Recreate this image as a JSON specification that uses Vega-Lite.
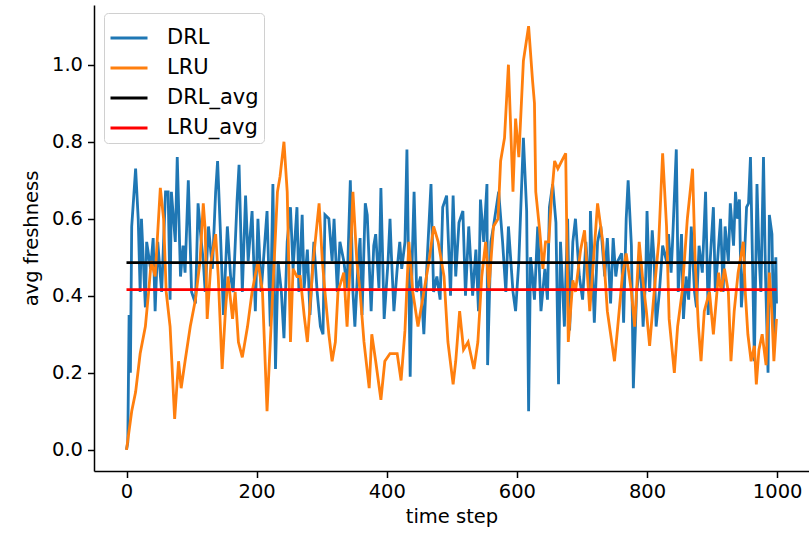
{
"$schema": "https://vega.github.io/schema/vega-lite/v6.json",
"width": 715, "height": 466,
"autosize": {"type": "none"},
"padding": {"left": 94, "top": 5, "right": 0, "bottom": 71},
"background": "white",
"config": {
 "view": {"stroke": null},
 "font": "DejaVu Sans",
 "axis": {"domainColor": "#000", "tickColor": "#000", "labelColor": "#000", "titleColor": "#000", "domainWidth": 1.5, "tickWidth": 1.5, "tickSize": 6.5, "labelFontSize": 19.5, "titleFontSize": 19.5, "titleFontWeight": "normal", "labelPadding": 5, "labelFont": "DejaVu Sans", "titleFont": "DejaVu Sans", "grid": false}
},
"datasets": {
 "DRL": [{"t":0,"v":0.0},{"t":2,"v":0.02},{"t":4,"v":0.35},{"t":6,"v":0.20},{"t":8,"v":0.58},{"t":14,"v":0.73},{"t":18,"v":0.60},{"t":21,"v":0.41},{"t":23,"v":0.60},{"t":29,"v":0.37},{"t":31,"v":0.54},{"t":37,"v":0.47},{"t":41,"v":0.55},{"t":44,"v":0.36},{"t":48,"v":0.54},{"t":54,"v":0.41},{"t":60,"v":0.67},{"t":64,"v":0.67},{"t":67,"v":0.39},{"t":69,"v":0.67},{"t":75,"v":0.54},{"t":78,"v":0.76},{"t":83,"v":0.45},{"t":87,"v":0.53},{"t":90,"v":0.46},{"t":95,"v":0.70},{"t":100,"v":0.41},{"t":106,"v":0.38},{"t":110,"v":0.64},{"t":115,"v":0.54},{"t":118,"v":0.49},{"t":121,"v":0.41},{"t":126,"v":0.58},{"t":132,"v":0.47},{"t":137,"v":0.67},{"t":140,"v":0.75},{"t":144,"v":0.58},{"t":149,"v":0.35},{"t":155,"v":0.58},{"t":160,"v":0.45},{"t":164,"v":0.41},{"t":170,"v":0.65},{"t":173,"v":0.74},{"t":178,"v":0.41},{"t":183,"v":0.66},{"t":187,"v":0.49},{"t":193,"v":0.62},{"t":198,"v":0.36},{"t":202,"v":0.60},{"t":207,"v":0.41},{"t":216,"v":0.62},{"t":221,"v":0.32},{"t":225,"v":0.69},{"t":229,"v":0.21},{"t":233,"v":0.49},{"t":238,"v":0.41},{"t":242,"v":0.29},{"t":247,"v":0.54},{"t":252,"v":0.63},{"t":256,"v":0.47},{"t":262,"v":0.63},{"t":265,"v":0.41},{"t":270,"v":0.61},{"t":273,"v":0.42},{"t":278,"v":0.52},{"t":282,"v":0.35},{"t":288,"v":0.54},{"t":293,"v":0.41},{"t":298,"v":0.32},{"t":302,"v":0.30},{"t":305,"v":0.61},{"t":311,"v":0.60},{"t":316,"v":0.49},{"t":319,"v":0.60},{"t":324,"v":0.41},{"t":328,"v":0.54},{"t":334,"v":0.49},{"t":339,"v":0.42},{"t":344,"v":0.70},{"t":348,"v":0.41},{"t":351,"v":0.32},{"t":356,"v":0.49},{"t":359,"v":0.55},{"t":362,"v":0.35},{"t":367,"v":0.64},{"t":370,"v":0.61},{"t":376,"v":0.36},{"t":380,"v":0.53},{"t":383,"v":0.56},{"t":388,"v":0.42},{"t":391,"v":0.68},{"t":396,"v":0.34},{"t":402,"v":0.49},{"t":405,"v":0.60},{"t":407,"v":0.51},{"t":411,"v":0.36},{"t":416,"v":0.47},{"t":420,"v":0.54},{"t":423,"v":0.47},{"t":428,"v":0.54},{"t":431,"v":0.78},{"t":436,"v":0.19},{"t":439,"v":0.49},{"t":442,"v":0.67},{"t":446,"v":0.41},{"t":452,"v":0.45},{"t":457,"v":0.30},{"t":462,"v":0.49},{"t":468,"v":0.69},{"t":472,"v":0.41},{"t":477,"v":0.45},{"t":482,"v":0.39},{"t":486,"v":0.63},{"t":492,"v":0.66},{"t":498,"v":0.40},{"t":502,"v":0.66},{"t":506,"v":0.45},{"t":511,"v":0.59},{"t":517,"v":0.62},{"t":521,"v":0.40},{"t":526,"v":0.58},{"t":532,"v":0.40},{"t":537,"v":0.52},{"t":541,"v":0.36},{"t":544,"v":0.65},{"t":549,"v":0.54},{"t":554,"v":0.69},{"t":555,"v":0.22},{"t":560,"v":0.54},{"t":564,"v":0.58},{"t":572,"v":0.67},{"t":578,"v":0.54},{"t":583,"v":0.41},{"t":587,"v":0.58},{"t":594,"v":0.41},{"t":598,"v":0.36},{"t":603,"v":0.49},{"t":610,"v":0.81},{"t":615,"v":0.62},{"t":618,"v":0.10},{"t":621,"v":0.50},{"t":624,"v":0.45},{"t":627,"v":0.39},{"t":632,"v":0.58},{"t":637,"v":0.36},{"t":643,"v":0.47},{"t":647,"v":0.39},{"t":650,"v":0.63},{"t":655,"v":0.69},{"t":660,"v":0.59},{"t":664,"v":0.17},{"t":667,"v":0.54},{"t":673,"v":0.32},{"t":678,"v":0.60},{"t":681,"v":0.31},{"t":686,"v":0.54},{"t":690,"v":0.60},{"t":696,"v":0.45},{"t":701,"v":0.39},{"t":706,"v":0.54},{"t":712,"v":0.39},{"t":713,"v":0.62},{"t":719,"v":0.33},{"t":724,"v":0.54},{"t":729,"v":0.58},{"t":735,"v":0.45},{"t":739,"v":0.55},{"t":744,"v":0.38},{"t":748,"v":0.55},{"t":752,"v":0.45},{"t":755,"v":0.49},{"t":761,"v":0.51},{"t":764,"v":0.33},{"t":768,"v":0.60},{"t":771,"v":0.70},{"t":776,"v":0.53},{"t":779,"v":0.16},{"t":784,"v":0.41},{"t":790,"v":0.49},{"t":794,"v":0.32},{"t":798,"v":0.45},{"t":800,"v":0.62},{"t":804,"v":0.41},{"t":808,"v":0.57},{"t":811,"v":0.49},{"t":814,"v":0.32},{"t":819,"v":0.41},{"t":824,"v":0.53},{"t":830,"v":0.49},{"t":833,"v":0.56},{"t":837,"v":0.46},{"t":839,"v":0.53},{"t":845,"v":0.78},{"t":848,"v":0.41},{"t":853,"v":0.56},{"t":856,"v":0.34},{"t":860,"v":0.45},{"t":864,"v":0.39},{"t":868,"v":0.58},{"t":873,"v":0.41},{"t":876,"v":0.37},{"t":880,"v":0.53},{"t":885,"v":0.46},{"t":890,"v":0.67},{"t":894,"v":0.35},{"t":897,"v":0.49},{"t":902,"v":0.63},{"t":905,"v":0.41},{"t":910,"v":0.53},{"t":913,"v":0.60},{"t":917,"v":0.41},{"t":920,"v":0.58},{"t":925,"v":0.49},{"t":928,"v":0.64},{"t":933,"v":0.53},{"t":936,"v":0.67},{"t":939,"v":0.60},{"t":942,"v":0.65},{"t":945,"v":0.37},{"t":949,"v":0.47},{"t":953,"v":0.63},{"t":956,"v":0.64},{"t":959,"v":0.76},{"t":963,"v":0.41},{"t":965,"v":0.23},{"t":969,"v":0.69},{"t":972,"v":0.51},{"t":975,"v":0.41},{"t":979,"v":0.76},{"t":982,"v":0.46},{"t":986,"v":0.20},{"t":988,"v":0.61},{"t":992,"v":0.56},{"t":995,"v":0.28},{"t":998,"v":0.50},{"t":999,"v":0.38}],
 "LRU": [{"t":0,"v":0.0},{"t":8,"v":0.10},{"t":14,"v":0.15},{"t":21,"v":0.25},{"t":29,"v":0.32},{"t":34,"v":0.41},{"t":38,"v":0.49},{"t":44,"v":0.45},{"t":52,"v":0.68},{"t":57,"v":0.60},{"t":61,"v":0.41},{"t":67,"v":0.32},{"t":74,"v":0.08},{"t":80,"v":0.23},{"t":84,"v":0.16},{"t":90,"v":0.23},{"t":98,"v":0.32},{"t":106,"v":0.39},{"t":113,"v":0.49},{"t":118,"v":0.64},{"t":121,"v":0.57},{"t":124,"v":0.34},{"t":130,"v":0.49},{"t":137,"v":0.56},{"t":141,"v":0.45},{"t":147,"v":0.21},{"t":152,"v":0.36},{"t":156,"v":0.45},{"t":163,"v":0.34},{"t":167,"v":0.41},{"t":172,"v":0.28},{"t":178,"v":0.24},{"t":186,"v":0.32},{"t":193,"v":0.41},{"t":202,"v":0.49},{"t":209,"v":0.41},{"t":216,"v":0.10},{"t":221,"v":0.28},{"t":227,"v":0.49},{"t":232,"v":0.67},{"t":236,"v":0.71},{"t":242,"v":0.80},{"t":247,"v":0.67},{"t":252,"v":0.28},{"t":256,"v":0.47},{"t":262,"v":0.45},{"t":267,"v":0.45},{"t":273,"v":0.35},{"t":278,"v":0.28},{"t":287,"v":0.49},{"t":296,"v":0.64},{"t":301,"v":0.49},{"t":305,"v":0.41},{"t":311,"v":0.30},{"t":316,"v":0.23},{"t":321,"v":0.28},{"t":325,"v":0.41},{"t":334,"v":0.46},{"t":339,"v":0.32},{"t":344,"v":0.49},{"t":348,"v":0.67},{"t":354,"v":0.49},{"t":359,"v":0.41},{"t":365,"v":0.28},{"t":373,"v":0.16},{"t":377,"v":0.30},{"t":383,"v":0.23},{"t":391,"v":0.13},{"t":397,"v":0.23},{"t":405,"v":0.25},{"t":416,"v":0.25},{"t":422,"v":0.18},{"t":428,"v":0.31},{"t":434,"v":0.54},{"t":440,"v":0.41},{"t":448,"v":0.32},{"t":457,"v":0.41},{"t":465,"v":0.49},{"t":472,"v":0.58},{"t":479,"v":0.54},{"t":488,"v":0.45},{"t":494,"v":0.28},{"t":502,"v":0.17},{"t":506,"v":0.23},{"t":512,"v":0.36},{"t":518,"v":0.26},{"t":525,"v":0.28},{"t":534,"v":0.21},{"t":540,"v":0.28},{"t":546,"v":0.45},{"t":552,"v":0.54},{"t":557,"v":0.42},{"t":564,"v":0.58},{"t":571,"v":0.60},{"t":575,"v":0.75},{"t":581,"v":0.81},{"t":587,"v":1.00},{"t":594,"v":0.67},{"t":598,"v":0.86},{"t":603,"v":0.76},{"t":610,"v":1.01},{"t":618,"v":1.10},{"t":624,"v":0.96},{"t":627,"v":0.90},{"t":629,"v":0.67},{"t":635,"v":0.57},{"t":640,"v":0.47},{"t":644,"v":0.54},{"t":649,"v":0.54},{"t":653,"v":0.65},{"t":658,"v":0.75},{"t":663,"v":0.73},{"t":669,"v":0.75},{"t":675,"v":0.77},{"t":679,"v":0.28},{"t":686,"v":0.44},{"t":690,"v":0.41},{"t":698,"v":0.52},{"t":704,"v":0.57},{"t":712,"v":0.36},{"t":724,"v":0.64},{"t":732,"v":0.54},{"t":739,"v":0.36},{"t":750,"v":0.23},{"t":755,"v":0.32},{"t":762,"v":0.45},{"t":768,"v":0.51},{"t":776,"v":0.41},{"t":781,"v":0.32},{"t":788,"v":0.54},{"t":793,"v":0.45},{"t":799,"v":0.36},{"t":804,"v":0.27},{"t":811,"v":0.41},{"t":818,"v":0.54},{"t":824,"v":0.77},{"t":830,"v":0.58},{"t":834,"v":0.34},{"t":842,"v":0.20},{"t":847,"v":0.32},{"t":854,"v":0.41},{"t":862,"v":0.60},{"t":870,"v":0.73},{"t":874,"v":0.49},{"t":879,"v":0.32},{"t":883,"v":0.23},{"t":888,"v":0.36},{"t":896,"v":0.41},{"t":902,"v":0.30},{"t":910,"v":0.46},{"t":914,"v":0.41},{"t":919,"v":0.47},{"t":925,"v":0.41},{"t":929,"v":0.23},{"t":934,"v":0.36},{"t":940,"v":0.46},{"t":948,"v":0.54},{"t":951,"v":0.41},{"t":955,"v":0.30},{"t":960,"v":0.23},{"t":965,"v":0.27},{"t":968,"v":0.17},{"t":972,"v":0.26},{"t":977,"v":0.30},{"t":983,"v":0.22},{"t":988,"v":0.46},{"t":992,"v":0.35},{"t":995,"v":0.23},{"t":999,"v":0.34}],
 "AVG": [{"t": 0, "v": 0.486, "s": "DRL_avg"}, {"t": 999, "v": 0.486, "s": "DRL_avg"}, {"t": 0, "v": 0.416, "s": "LRU_avg"}, {"t": 999, "v": 0.416, "s": "LRU_avg"}]
},
"layer": [
 {"data": {"name": "DRL"}, "mark": {"type": "line", "strokeWidth": 2.8}, "encoding": {"color": {"datum": "DRL", "type": "nominal"}}},
 {"data": {"name": "LRU"}, "mark": {"type": "line", "strokeWidth": 2.8}, "encoding": {"color": {"datum": "LRU", "type": "nominal"}}},
 {"data": {"name": "AVG"}, "mark": {"type": "line", "strokeWidth": 2.8}, "encoding": {"color": {"field": "s", "type": "nominal"}}}
],
"encoding": {
 "x": {"field": "t", "type": "quantitative", "scale": {"domain": [-49.95, 1048.95], "nice": false, "zero": false}, "axis": {"values": [0, 200, 400, 600, 800, 1000], "format": "d", "title": "time step", "titlePadding": 6}},
 "y": {"field": "v", "type": "quantitative", "scale": {"domain": [-0.055, 1.155], "nice": false, "zero": false}, "axis": {"values": [0, 0.2, 0.4, 0.6, 0.8, 1.0], "format": ".1f", "title": "avg freshness", "titlePadding": 10}},
 "color": {"scale": {"domain": ["DRL", "LRU", "DRL_avg", "LRU_avg"], "range": ["#1f77b4", "#ff7f0e", "#000000", "#ff0000"]}, "legend": {"title": null, "orient": "none", "legendX": 10, "legendY": 8, "symbolType": "stroke", "symbolSize": 1369, "symbolStrokeWidth": 2.8, "labelFontSize": 21, "labelFont": "DejaVu Sans", "labelColor": "#000", "labelOffset": 18, "strokeColor": "#d0d0d0", "fillColor": "rgba(255,255,255,0.8)", "cornerRadius": 4, "padding": 5, "rowPadding": -1.5}}
}
}
